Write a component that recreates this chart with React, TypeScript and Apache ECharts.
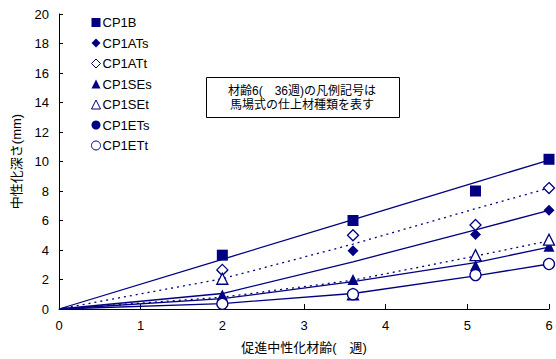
import React, { useEffect, useRef } from "react";
import * as echarts from "echarts";

// Accelerated carbonation age (sqrt weeks)
const ages = [2, 3.6, 5.1, 6];
const lineAges = [0, 2, 3.6, 5.1, 6];

// Measured carbonation depth (mm)
const cp1B = [3.65, 6.0, 8.0, 10.15];
const cp1ATs = [2.6, 3.95, 5.05, 6.7];
const cp1ATt = [2.65, 5.0, 5.7, 8.2];
const cp1SEs = [0.95, 2.0, 2.95, 4.25];
const cp1SEt = [2.05, 1.0, 3.65, 4.7];
const cp1ETs = [0.35, 1.0, 2.3, 3.05];
const cp1ETt = [0.35, 1.0, 2.3, 3.05];

// Predicted depth curves (mm)
const curveB = [0, 3.37, 6.06, 8.59, 10.1];
const curveATt = [0, 2.05, 4.4, 6.8, 8.2];
const curveATs = [0, 1.05, 3.2, 5.36, 6.69];
const curveSEt = [0, 0.8, 1.95, 3.59, 4.62];
const curveSEs = [0, 0.7, 1.85, 3.14, 4.2];
const curveET = [0, 0.37, 1.05, 2.25, 3.05];

const yTicks = [0, 2, 4, 6, 8, 10, 12, 14, 16, 18, 20];
const xTicks = [0, 1, 2, 3, 4, 5, 6];

const NAVY = "#000080";
const FONT = "'Liberation Sans', Arial, 'Noto Sans CJK JP', sans-serif";

const pairs = (xs: number[], ys: number[]) => xs.map((x, i) => [x, ys[i]]);

export default function App() {
  const ref = useRef<HTMLDivElement>(null);

  useEffect(() => {
    if (!ref.current) return;
    const chart = echarts.init(ref.current, null, { renderer: "svg" });

    const marker = (
      name: string,
      values: number[],
      symbol: string,
      size: number,
      filled: boolean
    ) => ({
      name,
      type: "scatter",
      data: pairs(ages, values),
      symbol,
      symbolSize: size,
      z: 5,
      itemStyle: filled
        ? { color: NAVY, opacity: 1 }
        : { color: "#ffffff", borderColor: NAVY, borderWidth: 1.3, opacity: 1 },
    });

    const curve = (name: string, values: number[], dotted: boolean) => ({
      name,
      type: "line",
      data: pairs(lineAges, values),
      showSymbol: false,
      symbol: "none",
      z: 3,
      lineStyle: { color: NAVY, width: 1.3, type: dotted ? [2, 4] : "solid" },
    });

    const boxText = (text: string, y: number) => ({
      type: "text",
      x: 302,
      y,
      style: {
        text,
        fontSize: 12,
        fontFamily: FONT,
        fill: "#000",
        textAlign: "center",
        textVerticalAlign: "middle",
      },
      z: 11,
    });

    const legendNames = ["CP1B", "CP1ATs", "CP1ATt", "CP1SEs", "CP1SEt", "CP1ETs", "CP1ETt"];
    const openNames = ["CP1ATt", "CP1SEt", "CP1ETt"];

    chart.setOption({
      animation: false,
      backgroundColor: "#ffffff",
      textStyle: { fontFamily: FONT },
      grid: { left: 59, right: 7, top: 14, bottom: 49 },
      xAxis: {
        type: "value",
        min: 0,
        max: 6,
        interval: 1,
        name: "促進中性化材齢(　週)",
        nameLocation: "middle",
        nameGap: 32,
        nameTextStyle: { fontSize: 13, color: "#000", fontFamily: FONT },
        axisLine: { lineStyle: { color: "#000", width: 1 } },
        axisTick: { inside: true, length: 5, lineStyle: { color: "#000" } },
        axisLabel: {
          fontSize: 13,
          color: "#000",
          margin: 10,
          formatter: (v: number) => (xTicks.includes(v) ? String(v) : ""),
        },
        splitLine: { show: false },
      },
      yAxis: {
        type: "value",
        min: 0,
        max: 20,
        interval: 2,
        name: "中性化深さ(mm)",
        nameLocation: "middle",
        nameGap: 36,
        nameRotate: 90,
        nameTextStyle: { fontSize: 13, color: "#000", fontFamily: FONT },
        axisLine: { show: true, lineStyle: { color: "#000", width: 1 } },
        axisTick: { show: true, inside: true, length: 4, lineStyle: { color: "#000" } },
        axisLabel: {
          fontSize: 13,
          color: "#000",
          margin: 10,
          formatter: (v: number) => (yTicks.includes(v) ? String(v) : ""),
        },
        splitLine: { show: false },
      },
      legend: {
        orient: "vertical",
        left: 86,
        top: 11,
        itemWidth: 9,
        itemHeight: 9,
        itemGap: 7.5,
        textStyle: { fontSize: 13, color: "#000", fontFamily: FONT, padding: [0, 0, 0, -3] },
        data: legendNames.map((name) =>
          openNames.includes(name)
            ? { name, itemStyle: { borderWidth: 1, borderColor: NAVY, color: "#ffffff" } }
            : { name }
        ),
      },
      graphic: [
        {
          type: "rect",
          shape: { x: 206.5, y: 77.5, width: 193, height: 40 },
          style: { fill: "#ffffff", stroke: "#000", lineWidth: 1 },
          z: 10,
        },
        boxText("材齢6(　36週)の凡例記号は", 90.5),
        boxText("馬場式の仕上材種類を表す", 104.5),
      ],
      series: [
        curve("fit B", curveB, false),
        curve("fit ATt", curveATt, true),
        curve("fit ATs", curveATs, false),
        curve("fit SEt", curveSEt, true),
        curve("fit SEs", curveSEs, false),
        curve("fit ET", curveET, false),
        marker("CP1B", cp1B, "rect", 11, true),
        marker("CP1ATs", cp1ATs, "diamond", 11, true),
        marker("CP1ATt", cp1ATt, "diamond", 11, false),
        marker("CP1SEs", cp1SEs, "triangle", 11, true),
        marker("CP1SEt", cp1SEt, "triangle", 11, false),
        marker("CP1ETs", cp1ETs, "circle", 11, true),
        marker("CP1ETt", cp1ETt, "circle", 11, false),
      ],
    });

    return () => chart.dispose();
  }, []);

  return (
    <div
      ref={ref}
      style={{ position: "fixed", left: 0, top: 0, width: 556, height: 359 }}
    />
  );
}
